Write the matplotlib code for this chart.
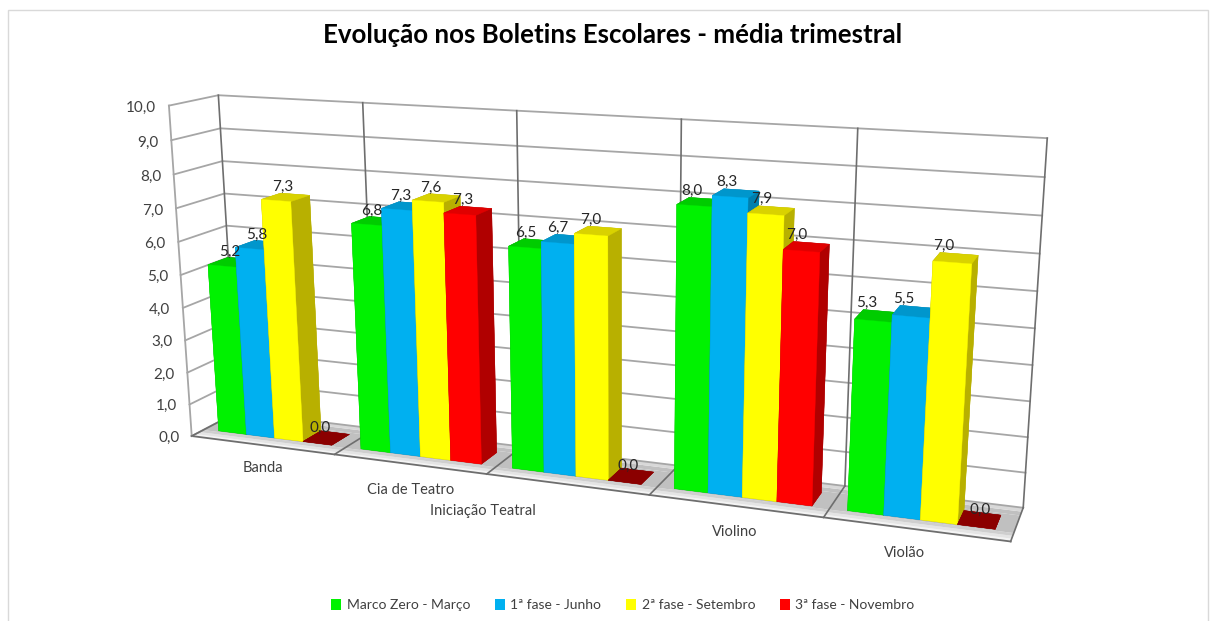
import numpy as np
import matplotlib
matplotlib.use('Agg')
import matplotlib.pyplot as plt
from matplotlib.patches import Patch, Rectangle
from mpl_toolkits.mplot3d.art3d import Poly3DCollection

plt.rcParams['font.family'] = ['Lato', 'DejaVu Sans']

W, H = 1217, 621

categories = ['Banda', 'Cia de Teatro', 'Iniciação Teatral', 'Violino', 'Violão']
series_names = ['Marco Zero - Março', '1ª fase - Junho', '2ª fase - Setembro', '3ª fase - Novembro']
marco = [5.2, 6.8, 6.5, 8.0, 5.3]
junho = [5.8, 7.3, 6.7, 8.3, 5.5]
setembro = [7.3, 7.6, 7.0, 7.9, 7.0]
novembro = [0.0, 7.3, 0.0, 7.0, 0.0]
series = [marco, junho, setembro, novembro]
ticks = [0, 1, 2, 3, 4, 5, 6, 7, 8, 9, 10]

front_cols = ['#00F200', '#00B0F0', '#FFFF00', '#FF0000']
top_cols = ['#00CC00', '#0096CC', '#D9D200', '#E00000']
side_cols = ['#00A800', '#007FAD', '#B8B000', '#B00000']

# camera fit: world corner (cat, depth, value) -> pixel in the picture
world = [(0, 0, 0), (0, 1, 0), (5, 1, 0), (5, 0, 0), (0, 0, 10), (0, 1, 10), (5, 1, 10),
         (1, 0, 0), (2, 0, 0), (4, 0, 0), (1, 1, 10), (4, 1, 10)]
pix = [(191, 436), (238, 412), (1023, 508), (1011, 542), (169, 106), (218, 95), (1047, 138),
       (335, 454), (487, 474), (823, 517), (363, 103), (858, 128)]

rows = []
rhs = []
for (x, y, z), (u, v) in zip(world, pix):
    rows.append([x, y, z, 1, 0, 0, 0, 0, -u * x, -u * y, -u * z])
    rows.append([0, 0, 0, 0, x, y, z, 1, -v * x, -v * y, -v * z])
    rhs += [u, v]
sol = np.linalg.lstsq(np.array(rows, float), np.array(rhs, float), rcond=None)[0]
P = np.append(sol, 1.0).reshape(3, 4)

fig = plt.figure(figsize=(W / 100, H / 100), dpi=100)
ax = fig.add_axes([0, 0, 1, 1], projection='3d')
ax.apply_aspect = lambda position=None: None
ax.set_xticks([])
ax.set_yticks([])
ax.set_zticks([])
ax.set_axis_off()
ax.patch.set_alpha(0)
ax.computed_zorder = False


def picture_proj():
    A = ax.transData.inverted().get_matrix()
    disp = np.array([P[0], H * P[2] - P[1], P[2]])
    out = A @ disp
    # depth only sorts the faces, has to stay negative or lines get clipped
    depth = np.array([-0.01, 0.1, -0.001, -1])
    return np.array([out[0], out[1], depth, out[2]])


ax.get_proj = picture_proj


def text_at(x, y, z, s, **kw):
    # Text3D keeps its raw position, so put labels on the figure instead
    u, v, w = P @ np.array([x, y, z, 1.0])
    fig.text(u / w / W, 1 - v / w / H, s, **kw)


grid_col = '#a6a6a6'
dark_col = '#6e6e6e'

# floor shading, darker towards the middle of the floor
shade_y = [0.0, 0.08, 0.16, 0.24, 0.76, 0.88, 1.0]
shade_c = ['#f4f4f4', '#e4e4e4', '#cfcfcf', '#c0c0c0', '#c0c0c0', '#d8d8d8']
for k, c in enumerate(shade_c):
    y0, y1 = shade_y[k], shade_y[k + 1]
    poly = Poly3DCollection([[(0, y0, 0), (5, y0, 0), (5, y1, 0), (0, y1, 0)]],
                            facecolors=c, edgecolors='none', zorder=1)
    ax.add_collection3d(poly)

# walls
for t in ticks:
    ax.plot([0, 0, 5], [0, 1, 1], [t, t, t], color=grid_col, lw=1.3, zorder=2)
ax.plot([0, 5], [0, 0], [0, 0], color=dark_col, lw=1.3, zorder=2)
ax.plot([0, 0], [0, 0], [0, 10], color=grid_col, lw=1.3, zorder=2)
for i in range(6):
    ax.plot([i, i], [1, 1], [0, 10], color=dark_col, lw=1.2, zorder=2)
    ax.plot([i, i], [0, 1], [0, 0], color=dark_col, lw=1.2, zorder=2)

# bars
bar_w = 0.2
bar_start = 0.1
bar_y = 0.28
bar_d = 0.42
zero_dx = [-0.02, 0, 0.03, 0, 0.07]
for i in range(len(categories)):
    for s, vals in enumerate(series):
        v = vals[i]
        x0 = i + bar_start + s * bar_w
        lx = x0 + bar_w * 0.3 - 0.045
        lz = v + 0.18
        if v == 0:
            cols = ['#8B0000'] * 6
            lx += zero_dx[i]
            lz -= 0.1
        else:
            cols = [side_cols[s], top_cols[s], front_cols[s], side_cols[s], side_cols[s], side_cols[s]]
        ax.bar3d(x0, bar_y, 0, bar_w, bar_d, v, color=cols, edgecolor=cols, linewidth=0.3,
                 shade=False, zorder=10 + i * 4 + s)
        text_at(lx, bar_y + bar_d, lz, f'{v:.1f}'.replace('.', ','),
                ha='center', va='center', fontsize=11, color='#262626')

# axis texts
for t in ticks:
    text_at(-0.09, 0, t - 0.1, f'{t:.1f}'.replace('.', ','), ha='right', va='center',
            fontsize=11, color='#404040')
cat_x = [0.5, 1.5, 1.97, 3.5, 4.45]
cat_z = [-0.72, -0.8, -1.15, -0.75, -0.7]
for name, x, z in zip(categories, cat_x, cat_z):
    text_at(x, 0, z, name, ha='center', va='center', fontsize=10.5, color='#404040')

fig.text(613 / W, 1 - 35 / H, 'Evolução nos Boletins Escolares - média trimestral',
         ha='center', va='center', fontsize=18.6, fontweight='bold', color='black')

handles = [Patch(facecolor=c, edgecolor='none') for c in front_cols]
fig.legend(handles, series_names, loc='center', bbox_to_anchor=(623 / W, 1 - 605 / H), ncol=4,
           frameon=False, fontsize=10, handlelength=0.7, handleheight=0.8, handletextpad=0.4,
           columnspacing=1.8, labelcolor='#404040')

fig.add_artist(Rectangle((8 / W, -0.1), (1208 - 8) / W, 1.1 - 10 / H, transform=fig.transFigure,
                         fill=False, edgecolor='#d9d9d9', lw=1))

fig.savefig('out.png', dpi=100)
